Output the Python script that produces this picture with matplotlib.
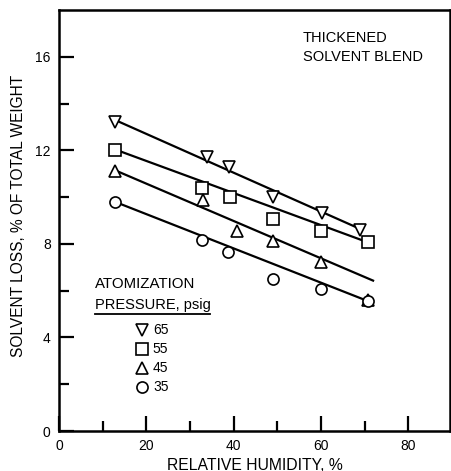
import matplotlib
matplotlib.use("Agg")
import matplotlib.pyplot as plt

plt.rcParams['font.family'] = ['Liberation Sans', 'DejaVu Sans']

# Measured solvent loss (% of total weight) vs relative humidity (%)
rh_65 = [12.8, 33.9, 38.9, 49.0, 60.2, 68.9]
loss_65 = [13.2, 11.7, 11.3, 10.0, 9.3, 8.6]
rh_55 = [12.8, 32.8, 39.1, 49.0, 60.0, 70.8]
loss_55 = [12.0, 10.4, 10.0, 9.06, 8.55, 8.08]
rh_45 = [12.8, 33.0, 40.7, 49.0, 60.0, 70.8]
loss_45 = [11.1, 9.87, 8.55, 8.13, 7.23, 5.6]
rh_35 = [12.8, 32.7, 38.7, 49.0, 60.0, 70.8]
loss_35 = [9.8, 8.17, 7.66, 6.5, 6.08, 5.57]

# Straight-line trends (end points) for each pressure
trend_65 = ([12.8, 68.2], [13.3, 8.7])
trend_55 = ([12.8, 70.5], [12.04, 8.08])
trend_45 = ([12.8, 71.9], [11.15, 6.43])
trend_35 = ([12.8, 70.5], [9.8, 5.57])

pressures = ['65', '55', '45', '35']
markers = ['v', 's', '^', 'o']

x_ticks = [0, 20, 40, 60, 80]
y_ticks = [0, 4, 8, 12, 16]

fig = plt.figure(figsize=(4.52, 4.71), dpi=100)
ax = fig.add_axes([0.1305, 0.0849, 0.865, 0.8939])

series = [
    (rh_65, loss_65, trend_65),
    (rh_55, loss_55, trend_55),
    (rh_45, loss_45, trend_45),
    (rh_35, loss_35, trend_35),
]
for (xs, ys, tr), m in zip(series, markers):
    ax.plot(tr[0], tr[1], color='black', lw=1.6, zorder=2)
    ax.plot(xs, ys, linestyle='none', marker=m, markersize=8,
            markerfacecolor='white', markeredgecolor='black',
            markeredgewidth=1.2, zorder=3)

ax.set_xlim(0, 89.5)
ax.set_ylim(0, 18)
ax.set_xticks(x_ticks)
ax.set_yticks(y_ticks)
ax.set_xticks([10, 30, 50, 70], minor=True)
ax.set_yticks([2, 6, 10, 14], minor=True)
ax.tick_params(which='major', direction='in', length=11, width=1.6,
               labelsize=10, pad=6)
ax.tick_params(which='minor', direction='in', length=7, width=1.6)
for sp in ax.spines.values():
    sp.set_linewidth(1.8)

ax.set_xlabel('RELATIVE HUMIDITY, %', fontsize=11.3, labelpad=3)
ax.set_ylabel('SOLVENT LOSS, % OF TOTAL WEIGHT', fontsize=11.2)
ax.yaxis.set_label_coords(-0.085, 0.51)

ax.text(55.8, 17.1, 'THICKENED\nSOLVENT BLEND', fontsize=10.5,
        ha='left', va='top', linespacing=1.45)

ax.text(8.2, 6.3, 'ATOMIZATION', fontsize=10.8, ha='left', va='center')
ax.text(8.2, 5.4, 'PRESSURE, psig', fontsize=10.5, ha='left', va='center')
ax.plot([8.2, 34.6], [5.0, 5.0], color='black', lw=1.3)

leg_y = [4.3, 3.5, 2.7, 1.9]
for p, m, yy in zip(pressures, markers, leg_y):
    ax.plot([19.0], [yy], linestyle='none', marker=m, markersize=8,
            markerfacecolor='white', markeredgecolor='black',
            markeredgewidth=1.2)
    ax.text(21.5, yy, p, fontsize=10, ha='left', va='center')

fig.savefig('out.png', dpi=100)
